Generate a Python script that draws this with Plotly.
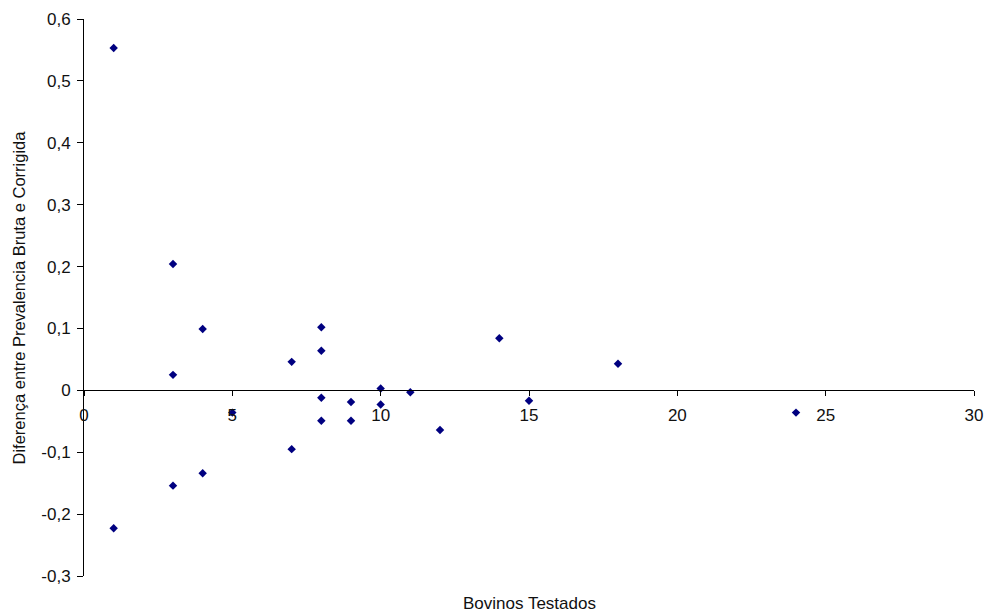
import plotly.graph_objects as go

# Bovinos testados por propriedade e diferença entre prevalência bruta e corrigida
bovinos_testados = [1, 1, 3, 3, 3, 4, 4, 5, 7, 7, 8, 8, 8, 8, 9, 9, 10, 10, 11, 12, 14, 15, 18, 24]
diferenca = [0.553, -0.223, 0.204, 0.025, -0.154, 0.099, -0.134, -0.036, 0.046, -0.095,
             0.102, 0.064, -0.012, -0.049, -0.019, -0.049, 0.003, -0.023, -0.003, -0.064,
             0.084, -0.017, 0.043, -0.036]

x_ticks = [0, 5, 10, 15, 20, 25, 30]
x_tick_labels = ["0", "5", "10", "15", "20", "25", "30"]
y_ticks = [-0.3, -0.2, -0.1, 0, 0.1, 0.2, 0.3, 0.4, 0.5, 0.6]
y_tick_labels = ["-0,3", "-0,2", "-0,1", "0", "0,1", "0,2", "0,3", "0,4", "0,5", "0,6"]

x_range = [0, 30]
y_range = [-0.3, 0.6]

FONT = "Liberation Sans, Arial, sans-serif"

fig = go.Figure(
    go.Scatter(
        x=bovinos_testados,
        y=diferenca,
        mode="markers",
        marker=dict(symbol="diamond", size=6.5, color="#000080", line=dict(width=0)),
        hoverinfo="x+y",
    )
)

# horizontal axis crosses the vertical one at zero
x_axis_position = (0 - y_range[0]) / (y_range[1] - y_range[0])

fig.update_layout(
    width=986,
    height=614,
    margin=dict(l=84, r=12, t=19, b=38),
    paper_bgcolor="white",
    plot_bgcolor="white",
    showlegend=False,
    font=dict(family=FONT, size=16, color="black"),
    xaxis=dict(
        range=x_range,
        anchor="free",
        position=x_axis_position,
        automargin=False,
        showline=True,
        linecolor="black",
        linewidth=1,
        showgrid=False,
        zeroline=False,
        ticks="outside",
        ticklen=5,
        tickcolor="black",
        tickvals=x_ticks,
        ticktext=x_tick_labels,
        ticklabelstandoff=4,
        tickfont=dict(family=FONT, size=17, color="#111111"),
    ),
    yaxis=dict(
        range=y_range,
        automargin=False,
        showline=True,
        linecolor="black",
        linewidth=1,
        showgrid=False,
        zeroline=False,
        ticks="outside",
        ticklen=6,
        tickcolor="black",
        tickvals=y_ticks,
        ticktext=y_tick_labels,
        ticklabelstandoff=3,
        tickfont=dict(family=FONT, size=17, color="#111111"),
    ),
    annotations=[
        dict(
            text="Bovinos Testados",
            xref="paper", yref="paper",
            x=0.5, y=0,
            xanchor="center", yanchor="middle",
            yshift=-27,
            showarrow=False,
            font=dict(family=FONT, size=17, color="#111111"),
        ),
        dict(
            text="Diferença entre Prevalencia Bruta e Corrigida",
            xref="paper", yref="paper",
            x=0, y=0.5,
            xanchor="center", yanchor="middle",
            xshift=-66,
            textangle=-90,
            showarrow=False,
            font=dict(family=FONT, size=16.5, color="#111111"),
        ),
    ],
)

fig.write_html("out.html")
